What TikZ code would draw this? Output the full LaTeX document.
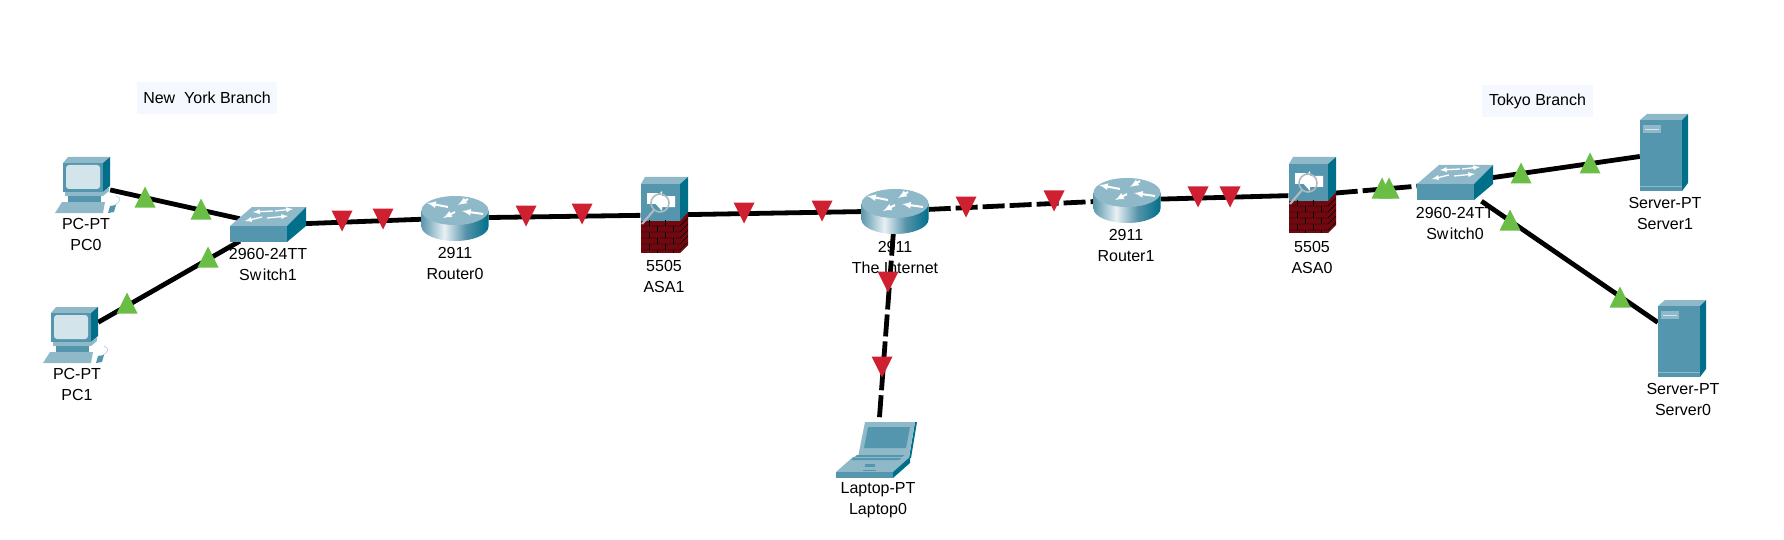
\documentclass[tikz,border=0pt]{standalone}
\usepackage{fontspec}
\setmainfont{Liberation Sans}
\definecolor{devmain}{RGB}{84,150,174}
\definecolor{devlight}{RGB}{143,185,201}
\definecolor{devdark}{RGB}{0,111,138}
\definecolor{devscreen}{RGB}{211,228,235}
\definecolor{brickred}{RGB}{112,8,16}
\definecolor{branchbg}{RGB}{246,248,255}
\definecolor{linkup}{RGB}{106,189,69}
\definecolor{linkdown}{RGB}{206,32,48}
\definecolor{magnify}{RGB}{176,186,190}
\definecolor{rtleft}{RGB}{92,152,174}
\definecolor{rtmid}{RGB}{232,241,244}
\definecolor{rtteal}{RGB}{86,147,170}
\pgfdeclarehorizontalshading{routerbody}{100bp}{color(0bp)=(rtleft); color(25bp)=(rtleft); color(42bp)=(rtmid); color(58bp)=(rtteal); color(75bp)=(devdark); color(100bp)=(devdark)}
\tikzset{
  pcnode/.style={minimum width=44pt, minimum height=56pt, inner sep=0pt},
  switchnode/.style={minimum width=56pt, minimum height=36pt, inner sep=0pt},
  routernode/.style={minimum width=67pt, minimum height=45pt, inner sep=0pt},
  asanode/.style={minimum width=47pt, minimum height=76pt, inner sep=0pt},
  servernode/.style={minimum width=48pt, minimum height=78pt, inner sep=0pt},
  laptopnode/.style={minimum width=80pt, minimum height=64pt, inner sep=0pt},
  devlabel/.style={align=center, inner sep=0pt, font=\fontsize{16}{21}\selectfont},
  branchlabel/.style={fill=branchbg, inner sep=0pt, minimum height=32pt, font=\fontsize{16}{21}\selectfont},
  link/.style={line width=4.8pt},
  downlink/.style={link, dash pattern=on 22pt off 5pt},
  arrowmark/.style={white, line width=1.3pt, -latex},
  upmark/.pic={\fill[linkup] (-10.5, 10.5) -- (10.5, 10.5) -- (0, -10.5) -- cycle;},
  downmark/.pic={\fill[linkdown] (-10.5, -10.5) -- (10.5, -10.5) -- (0, 10.5) -- cycle;},
  pcicon/.pic={
    \fill[devlight] (-25, -22) -- (-20, -28) -- (22, -28) -- (15, -22) -- cycle;
    \fill[devdark] (15, -22) -- (22, -28) -- (22, 1) -- (15, 7) -- cycle;
    \fill[devmain] (-25, -22) rectangle (15, 7);
    \fill[devscreen, rounded corners=3pt] (-22, -20) rectangle (12, 4);
    \fill[devlight] (-23, 7) -- (15, 7) -- (21, 2) -- (21, 6) -- (15, 11) -- (-23, 11) -- cycle;
    \fill[devmain] (-20, 11) rectangle (13, 17);
    \fill[devlight] (-33, 28) -- (-26, 17) -- (17, 17) -- (15, 28) -- cycle;
    \fill[devmain] (20, 28) -- (22, 21) -- (28, 20) -- (26, 27) -- cycle;
    \draw[devlight, thin] (27, 20) .. controls (32, 17) and (34, 13) .. (28, 11);
  },
  switchicon/.pic={
    \fill[devlight] (-38, 1) -- (-16, -18) -- (38, -18) -- (19, 1) -- cycle;
    \fill[devmain] (-38, 1) rectangle (19, 17);
    \fill[devdark] (19, 1) -- (38, -18) -- (38, 1) -- (19, 17) -- cycle;
    \draw[arrowmark] (5, -14) -- (-15, -13);
    \draw[arrowmark] (7, -14) -- (25, -16);
    \draw[arrowmark] (-6, -8) -- (-23, -4);
    \draw[arrowmark] (-1, -7) -- (20, -9);
  },
  routericon/.pic={
    \shade[shading=routerbody] (-33.5, -7.5) -- (-33.5, 8.5) arc (180:0:33.5 and 14.5) -- (33.5, -7.5) -- cycle;
    \fill[devlight] (0, -7.5) ellipse (33.5 and 14.5);
    \draw[arrowmark, line width=2pt] (-7, -11) -- (-28, -15);
    \draw[arrowmark, line width=2pt] (13, -19) -- (3, -13);
    \draw[arrowmark, line width=2pt] (28, -4) -- (7, -7);
    \draw[arrowmark, line width=2pt] (0, -6) -- (-12, 0);
  },
  asaicon/.pic={
    \fill[devlight] (-23, -31) -- (-19, -38) -- (24, -38) -- (16, -31) -- cycle;
    \fill[devmain] (-23, -31) rectangle (16, 6);
    \fill[devdark] (16, -31) -- (24, -38) -- (24, -3) -- (16, 6) -- cycle;
    \fill[brickred] (-23, 6) rectangle (16, 38);
    \fill[brickred] (16, 6) -- (24, -3) -- (24, 30) -- (16, 38) -- cycle;
    % brick joints
    \draw[black, thin] (-23, 11) -- (16, 11) -- (24, 3);
    \draw[black, thin] (-23, 17) -- (16, 17) -- (24, 9);
    \draw[black, thin] (-23, 23) -- (16, 23) -- (24, 15);
    \draw[black, thin] (-23, 29) -- (16, 29) -- (24, 21);
    \draw[black, thin] (-23, 35) -- (16, 35) -- (24, 27);
    \draw[black, thin, dash pattern=on 6pt off 6pt] (-15, 5) -- (-15, 38) (1, 5) -- (1, 38);
    \draw[black, thin, dash pattern=on 6pt off 6pt, dash phase=6pt] (-7, 5) -- (-7, 38) (9, 5) -- (9, 38);
    % router arrows behind the magnifier
    \fill[white] (-17, -22) rectangle (-6, -11);
    \fill[white] (11, -8) -- (11, -19) -- (-2, -19) -- (-2, -24) -- (-11, -14) -- (-2, -4) -- (-2, -8) -- cycle;
    \draw[magnify, line width=1.6pt] (-4, -12) circle (9);
    \draw[magnify, line width=2.2pt] (-10, -5) -- (-22, 9);
  },
  servericon/.pic={
    \fill[devlight] (-24, -33) -- (-17, -39) -- (24, -39) -- (18, -33) -- cycle;
    \fill[devmain] (-24, -33) rectangle (18, 38);
    \fill[devdark] (18, -33) -- (24, -39) -- (24, 30) -- (18, 38) -- cycle;
    \fill[devlight] (-21, -28) rectangle (-3, -20);
    \draw[devscreen, thin] (-19, -24) -- (-5, -24);
    \draw[devlight, thin] (-24, 33) -- (18, 33);
  },
  laptopicon/.pic={
    \fill[devdark] (38, -28) -- (40, -28) -- (34, 8) -- (32, 8) -- cycle;
    \fill[devlight] (-12, -28) -- (38, -28) -- (32, 7) -- (-19, 7) -- cycle;
    \fill[devmain] (-9, -23) -- (33, -23) -- (29, -2) -- (-13, -2) -- cycle;
    \fill[devlight] (-41, 22) -- (-24, 7) -- (33, 7) -- (16, 22) -- cycle;
    \fill[devmain] (-26, 10) -- (-20, 5) -- (27, 5) -- (22, 10) -- cycle;
    \draw[devlight, thin] (-22, 7) -- (25, 7);
    \fill[devmain] (-41, 22) rectangle (16, 28);
    \fill[devdark] (16, 22) -- (33, 7) -- (33, 13) -- (16, 28) -- cycle;
    \fill[devmain] (-12, 14) rectangle (-2, 17);
    \draw[devmain, thick] (-14, 20) -- (-1, 20);
  }
}

\begin{document}
\begin{tikzpicture}[x=1pt, y=-1pt]
  \useasboundingbox (0, 0) rectangle (1784, 540);

  % device nodes, the icons go on top later
  \node [pcnode] (pc0) at (88, 185) {};
  \node [pcnode] (pc1) at (76, 335) {};
  \node [switchnode] (switch1) at (268, 225) {};
  \node [routernode] (router0) at (455, 218) {};
  \node [asanode] (asa1) at (664, 215) {};
  \node [routernode] (internet) at (895, 211) {};
  \node [laptopnode] (laptop0) at (877, 450) {};
  \node [routernode] (router1) at (1127, 200) {};
  \node [asanode] (asa0) at (1312, 195) {};
  \node [switchnode] (switch0) at (1455, 183) {};
  \node [servernode] (server1) at (1664, 153) {};
  \node [servernode] (server0) at (1682, 339) {};

  % branch labels
  \node [branchlabel, minimum width=140pt] (newyork) at (207, 98) {New\ \ York Branch};
  \node [branchlabel, minimum width=111pt] (tokyo) at (1537.5, 101) {Tokyo Branch};

  % device labels
  \node [devlabel] (pc0label) at (86, 234.5) {PC-PT\\PC0};
  \node [devlabel] (pc1label) at (77, 384.5) {PC-PT\\PC1};
  \node [devlabel] (switch1label) at (268, 264.5) {2960-24TT\\Sw\kern1.5pt itch1};
  \node [devlabel] (router0label) at (455, 263.5) {2911\\Router0};
  \node [devlabel] (asa1label) at (664, 276.5) {5505\\ASA1};
  \node [devlabel] (internetlabel) at (895, 257.5) {2911\\The Internet};
  \node [devlabel] (laptop0label) at (878, 500.5) {Laptop-PT\\Laptop0};
  \node [devlabel] (router1label) at (1126, 245.5) {2911\\Router1};
  \node [devlabel] (asa0label) at (1312, 257.5) {5505\\ASA0};
  \node [devlabel] (switch0label) at (1455, 223.5) {2960-24TT\\Sw\kern1.5pt itch0};
  \node [devlabel] (server1label) at (1665, 213.5) {Server-PT\\Server1};
  \node [devlabel] (server0label) at (1683, 399.5) {Server-PT\\Server0};

  % draw links
  \draw [link] (pc0) -- (switch1);
  \draw [link] (pc1) -- (switch1);
  \draw [link] (switch1) -- (router0);
  \draw [link] (router0) -- (asa1);
  \draw [link] (asa1) -- (internet);
  \draw [downlink] (internet) -- (router1);
  \draw [downlink] (internet) -- (laptop0);
  \draw [link] (router1) -- (asa0);
  \draw [downlink] (asa0) -- (switch0);
  \draw [link] (switch0) -- (server1);
  \draw [link] (switch0) -- (server0);

  % draw icons
  \pic at (pc0) {pcicon};
  \pic at (pc1) {pcicon};
  \pic at (switch1) {switchicon};
  \pic at (router0) {routericon};
  \pic at (asa1) {asaicon};
  \pic at (internet) {routericon};
  \pic at (laptop0) {laptopicon};
  \pic at (router1) {routericon};
  \pic at (asa0) {asaicon};
  \pic at (switch0) {switchicon};
  \pic at (server1) {servericon};
  \pic at (server0) {servericon};

  % draw link state marks
  \pic at (145, 197) {upmark};
  \pic at (201, 209) {upmark};
  \pic at (208, 257) {upmark};
  \pic at (127, 303) {upmark};
  \pic at (342, 221) {downmark};
  \pic at (383, 219) {downmark};
  \pic at (526, 216) {downmark};
  \pic at (582, 214) {downmark};
  \pic at (744, 213) {downmark};
  \pic at (822, 211) {downmark};
  \pic at (966, 207) {downmark};
  \pic at (888, 282) {downmark};
  \pic at (882, 367) {downmark};
  \pic at (1054, 201) {downmark};
  \pic at (1198, 197) {downmark};
  \pic at (1230, 197) {downmark};
  \pic at (1382, 188) {upmark};
  \pic at (1389, 188) {upmark};
  \pic at (1521, 173) {upmark};
  \pic at (1590, 163) {upmark};
  \pic at (1510, 220) {upmark};
  \pic at (1620, 297) {upmark};
\end{tikzpicture}
\end{document}
